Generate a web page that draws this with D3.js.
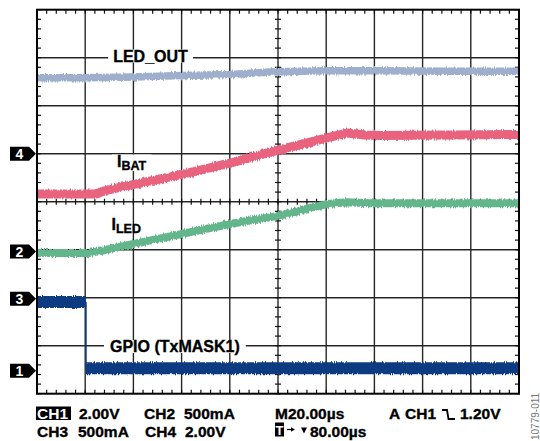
<!DOCTYPE html>
<html>
<head>
<meta charset="utf-8">
<script src="https://cdn.jsdelivr.net/npm/d3@7"></script>
<style>
  html, body { margin: 0; padding: 0; background: #fff; }
  svg { display: block; }
  text { font-family: "Liberation Sans", Arial, Helvetica, sans-serif; }
</style>
</head>
<body>
<div id="chart"></div>
<script>
// ---- data (time in µs, values in screen divisions from bottom, 0..8) ----
const timeRange = [0, 200];            // 10 div × 20 µs
const divRange = [0, 8];
const ledOutT = [0, 20.3, 40.2, 60.2, 80.5, 96.7, 109.1, 120.3, 139.8, 171.4, 200];
const ledOutV = [6.58, 6.58, 6.60, 6.63, 6.65, 6.70, 6.72, 6.73, 6.73, 6.72, 6.72];
const ibatT   = [0, 24.9, 27.4, 40.2, 60.2, 80.5, 99.6, 113.3, 120.3, 128.6, 136.1, 142.3, 171.4, 200];
const ibatV   = [4.16, 4.16, 4.22, 4.36, 4.57, 4.81, 5.07, 5.24, 5.33, 5.43, 5.39, 5.38, 5.39, 5.40];
const iledT   = [0, 21.2, 26.1, 40.2, 60.2, 80.5, 100.8, 113.3, 120.3, 128.6, 138.2, 171.4, 200];
const iledV   = [2.93, 2.93, 2.97, 3.12, 3.33, 3.54, 3.71, 3.87, 3.95, 3.99, 3.97, 3.97, 3.97];
const gpioT   = [0, 20.3, 20.3, 200];
const gpioV   = [1.91, 1.91, 0.53, 0.53];
const markerLabels = ["4", "2", "3", "1"];
const markerLevels = [5.0, 2.96, 1.98, 0.48];
const row1Texts = ["2.00V", "CH2", "500mA", "M20.00µs", "A", "CH1", "1.20V"];
const row2Texts = ["CH3", "500mA", "CH4", "2.00V", "80.00µs"];

const W = 540, H = 441;
const svg = d3.select("#chart").append("svg").attr("width", W).attr("height", H);

const x = d3.scaleLinear().domain(timeRange).range([37, 519]);
const y = d3.scaleLinear().domain(divRange).range([393.7, 9.7]);

const defs = svg.append("defs");
defs.append("clipPath").attr("id", "plotclip").append("rect")
  .attr("x", x(0)).attr("y", y(8)).attr("width", x(200) - x(0)).attr("height", y(0) - y(8));
const f = defs.append("filter").attr("id", "noise").attr("filterUnits", "userSpaceOnUse")
  .attr("x", 0).attr("y", 0).attr("width", W).attr("height", H);
f.append("feTurbulence").attr("type", "fractalNoise").attr("baseFrequency", "0.9 0.03").attr("numOctaves", 2).attr("seed", 7).attr("result", "n");
f.append("feDisplacementMap").attr("in", "SourceGraphic").attr("in2", "n").attr("scale", 4)
  .attr("xChannelSelector", "B").attr("yChannelSelector", "G");

// ---- grid ----
const grid = svg.append("g");
const gridColor = "#262626";
d3.range(20, 200, 20).forEach(t => {
  grid.append("line").attr("x1", x(t)).attr("x2", x(t)).attr("y1", y(8)).attr("y2", y(0))
    .attr("stroke", gridColor).attr("stroke-width", 1.4);
});
d3.range(1, 8).forEach(d => {
  grid.append("line").attr("x1", x(0)).attr("x2", x(200)).attr("y1", y(d)).attr("y2", y(d))
    .attr("stroke", gridColor).attr("stroke-width", 1.4);
});
// minor ticks
d3.range(0, 200.01, 4).forEach(t => {
  grid.append("line").attr("x1", x(t)).attr("x2", x(t)).attr("y1", y(8)).attr("y2", y(8) + 4).attr("stroke", "#111").attr("stroke-width", 1.2);
  grid.append("line").attr("x1", x(t)).attr("x2", x(t)).attr("y1", y(0)).attr("y2", y(0) - 4).attr("stroke", "#111").attr("stroke-width", 1.2);
  grid.append("line").attr("x1", x(t)).attr("x2", x(t)).attr("y1", y(4) - 3).attr("y2", y(4) + 3).attr("stroke", "#111").attr("stroke-width", 1.2);
});
d3.range(0, 8.01, 0.2).forEach(d => {
  grid.append("line").attr("x1", x(0)).attr("x2", x(0) + 4).attr("y1", y(d)).attr("y2", y(d)).attr("stroke", "#111").attr("stroke-width", 1.2);
  grid.append("line").attr("x1", x(200)).attr("x2", x(200) - 4).attr("y1", y(d)).attr("y2", y(d)).attr("stroke", "#111").attr("stroke-width", 1.2);
  grid.append("line").attr("x1", x(100) - 3).attr("x2", x(100) + 3).attr("y1", y(d)).attr("y2", y(d)).attr("stroke", "#111").attr("stroke-width", 1.2);
});

// ---- traces ----
const traces = svg.append("g").attr("clip-path", "url(#plotclip)");
const line = d3.line().x(d => x(d[0])).y(d => y(d[1]));
function drawTrace(T, V, color, w) {
  const pts = T.map((t, i) => [t, V[i]]);
  traces.append("path").attr("d", line(pts)).attr("fill", "none")
    .attr("stroke", color).attr("stroke-width", w).attr("stroke-linejoin", "round")
    .attr("filter", "url(#noise)");
}
drawTrace(ledOutT, ledOutV, "#9dafcc", 7.5);
drawTrace(ibatT, ibatV, "#e9637f", 9);
drawTrace(iledT, iledV, "#63b68c", 8);
// GPIO: thick levels, thin transitions
const gpioColor = "#0d3a82";
for (let i = 0; i < gpioT.length - 1; i++) {
  const level = gpioV[i] === gpioV[i + 1];
  traces.append("path").attr("d", line([[gpioT[i], gpioV[i]], [gpioT[i + 1], gpioV[i + 1]]]))
    .attr("fill", "none").attr("stroke", gpioColor)
    .attr("stroke-width", level ? 12 : 1.6)
    .attr("filter", level ? "url(#noise)" : null);
}

// frame
svg.append("rect").attr("x", x(0)).attr("y", y(8)).attr("width", x(200) - x(0)).attr("height", y(0) - y(8))
  .attr("fill", "none").attr("stroke", "#000").attr("stroke-width", 2);

// ---- trace labels ----
function boxedLabel(g, padX) {
  const bb = g.node().getBBox();
  g.insert("rect", ":first-child").attr("x", bb.x - padX).attr("y", bb.y + 2)
    .attr("width", bb.width + 2 * padX).attr("height", bb.height - 4).attr("fill", "#fff");
}
const heavy = sel => sel.attr("stroke", "#000").attr("stroke-width", 0.35);
const l1 = svg.append("g");
heavy(l1.append("text").attr("x", 150.5).attr("y", 61.5).attr("text-anchor", "middle")
  .attr("font-size", 16).attr("font-weight", "bold").text("LED_OUT"));
boxedLabel(l1, 5);

const l2 = svg.append("g");
const t2 = heavy(l2.append("text").attr("x", 117).attr("y", 166.5).attr("font-size", 16).attr("font-weight", "bold"));
t2.append("tspan").text("I");
t2.append("tspan").attr("font-size", 12.5).attr("dy", 3.5).text("BAT");
boxedLabel(l2, 5);

const l3 = svg.append("g");
const t3 = heavy(l3.append("text").attr("x", 111.5).attr("y", 229.5).attr("font-size", 16).attr("font-weight", "bold"));
t3.append("tspan").text("I");
t3.append("tspan").attr("font-size", 12.5).attr("dy", 3.5).text("LED");

const l4 = svg.append("g");
heavy(l4.append("text").attr("x", 110).attr("y", 352).attr("font-size", 16).attr("font-weight", "bold").text("GPIO (TxMASK1)"));
boxedLabel(l4, 6);

// ---- channel markers ----
markerLabels.forEach((lab, i) => {
  const cy = y(markerLevels[i]);
  const g = svg.append("g");
  g.append("path").attr("d", `M10,${cy - 7} H29 L36,${cy} L29,${cy + 7} H10 Z`).attr("fill", "#000");
  g.append("text").attr("x", 19.5).attr("y", cy + 5).attr("text-anchor", "middle")
    .attr("font-size", 14).attr("font-weight", "bold").attr("fill", "#fff").text(lab);
});

// ---- bottom readout ----
const fs = 15.5;
const b = svg.append("g").attr("font-size", fs).attr("font-weight", "bold");
b.append("rect").attr("x", 36).attr("y", 406.5).attr("width", 35).attr("height", 13.5).attr("fill", "#000");
b.append("text").attr("x", 37).attr("y", 419).attr("fill", "#fff").text("CH1");
const row1X = [79, 144, 184, 275, 389, 405, 460];
row1Texts.forEach((s, i) => heavy(b.append("text").attr("x", row1X[i]).attr("y", 419).text(s)));
const row2X = [37, 78, 145, 185, 310];
row2Texts.forEach((s, i) => heavy(b.append("text").attr("x", row2X[i]).attr("y", 437).text(s)));
// falling-edge trigger glyph
b.append("path").attr("d", "M442,410 H447 L448.5,419 H455").attr("fill", "none").attr("stroke", "#000").attr("stroke-width", 1.8);
// T box
b.append("rect").attr("x", 275).attr("y", 422.5).attr("width", 9).attr("height", 14).attr("fill", "#000");
b.append("text").attr("x", 279.5).attr("y", 435).attr("text-anchor", "middle").attr("font-size", 13).attr("fill", "#fff").text("T");
// small arrow and down-triangle
b.append("path").attr("d", "M287,429.5 H292").attr("stroke", "#000").attr("stroke-width", 1.2);
b.append("path").attr("d", "M291,427.3 L295,429.5 L291,431.7 Z").attr("fill", "#000");
b.append("path").attr("d", "M301,427.5 L307,427.5 L304,433.5 Z").attr("fill", "#000");

// figure id
svg.append("text").attr("transform", "translate(539,440) rotate(-90)")
  .attr("font-size", 10).attr("fill", "#777").text("10779-011");
</script>
</body>
</html>
